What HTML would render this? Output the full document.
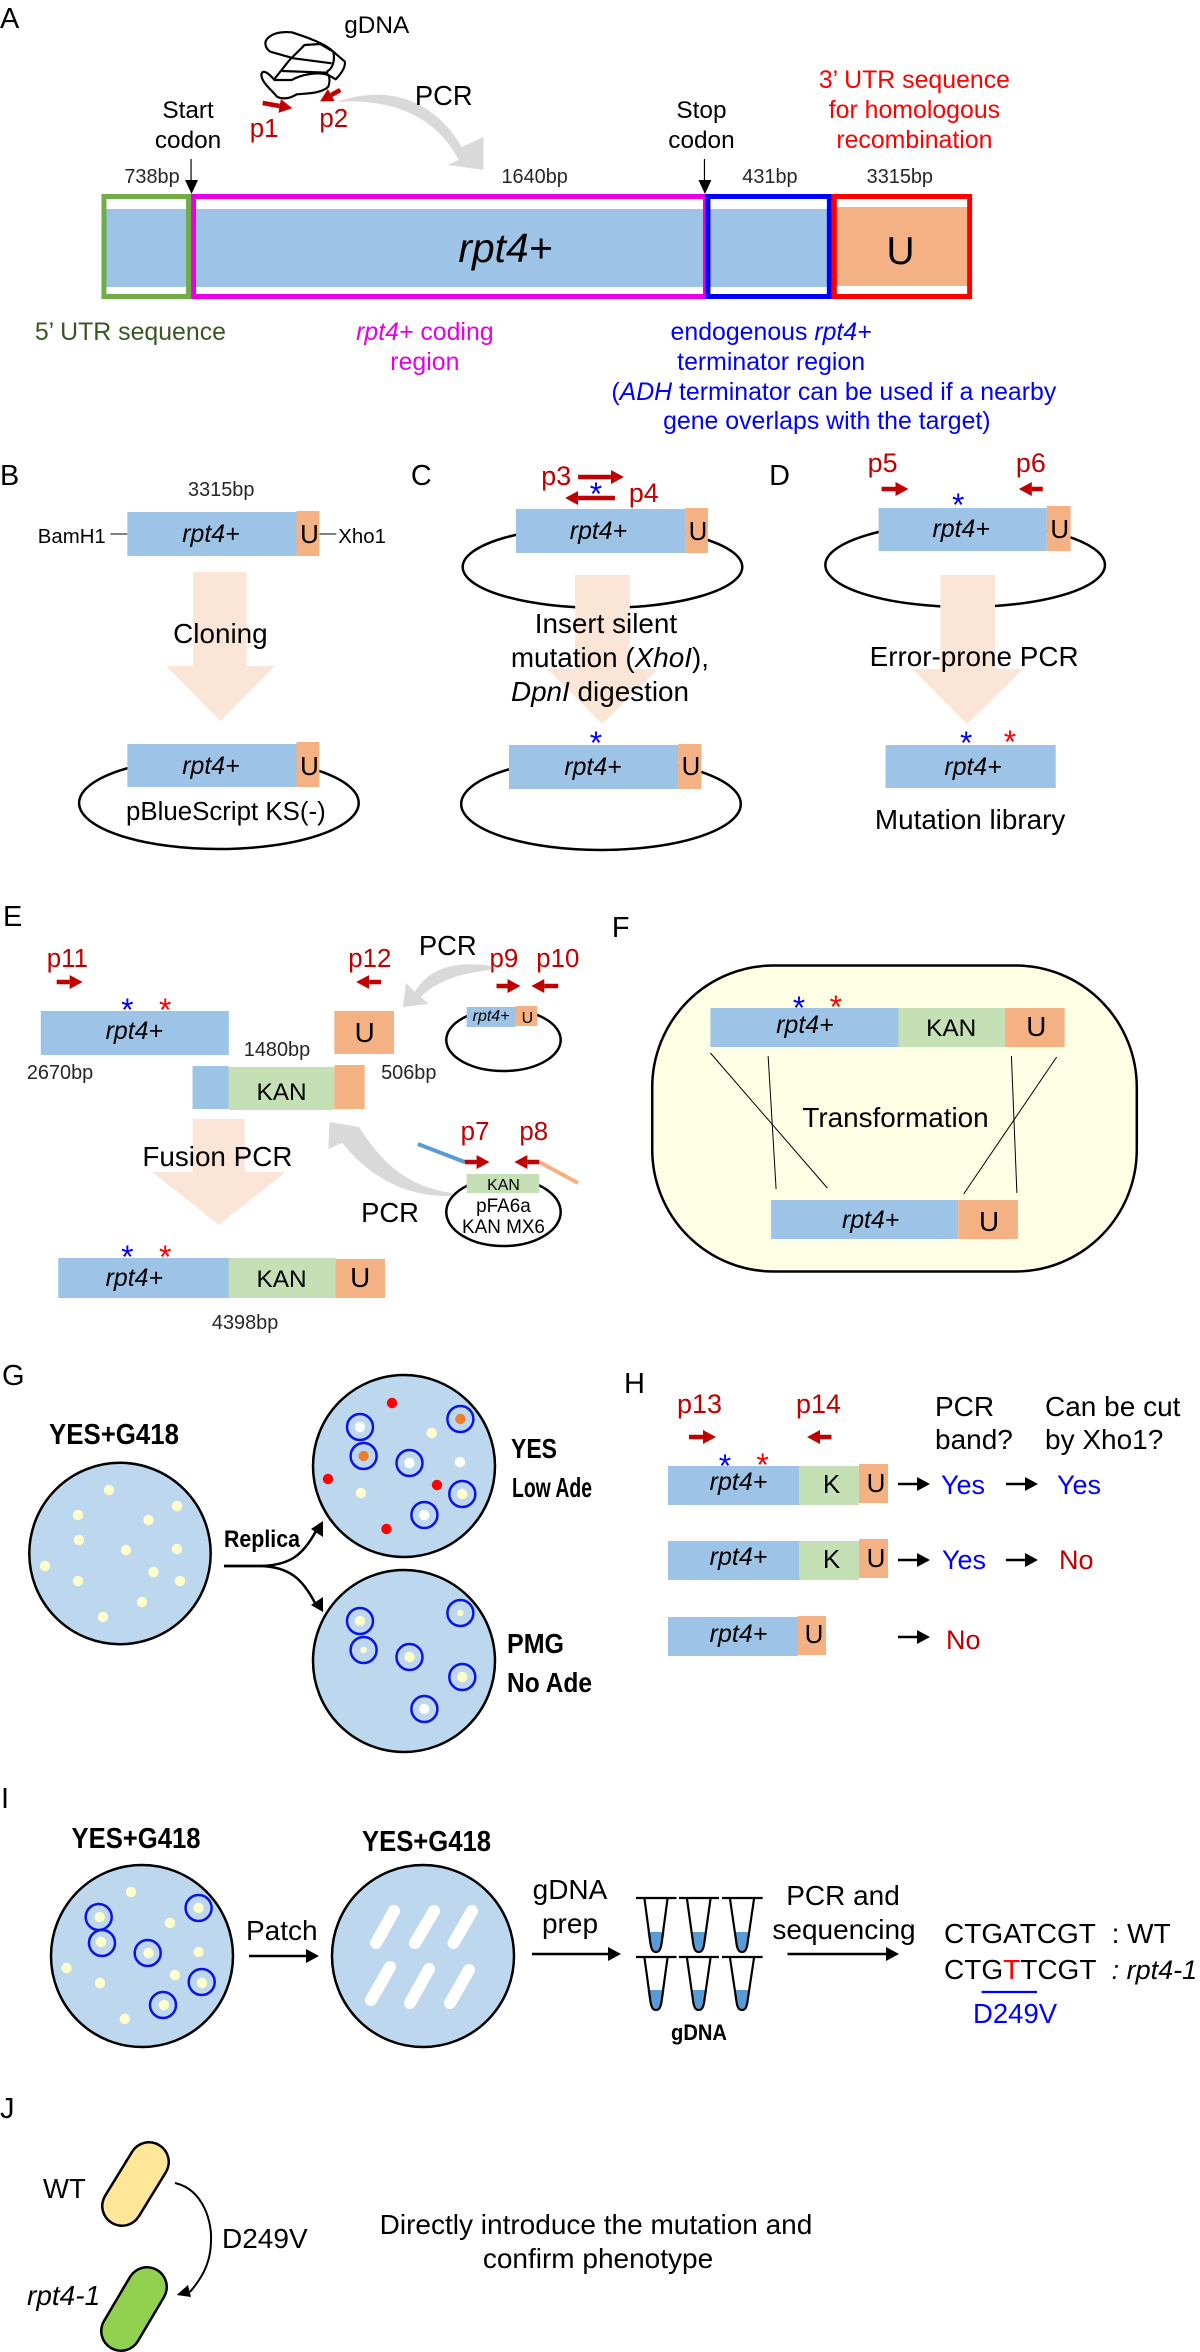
<!DOCTYPE html>
<html><head><meta charset="utf-8"><style>
html,body{margin:0;padding:0;background:#fff}
svg{display:block}
text{font-family:"Liberation Sans",Arial,sans-serif;fill:#000}
.m{text-anchor:middle}
.i{font-style:italic}
.lab{font-size:29px}
.r{font-size:26px;fill:#c00000}
.bp{font-size:20px;fill:#262626}
.t{font-size:28px}
.g{font-size:25px;text-anchor:middle;font-style:italic}
.u{font-size:26px;text-anchor:middle}
.ub{font-size:28px;text-anchor:middle}
.k{font-size:24.5px;text-anchor:middle}
.b{font-weight:bold}
.sb{font-size:32px;fill:#0000ff;text-anchor:middle}
.sr{font-size:32px;fill:#ff0000;text-anchor:middle}
.bl{fill:#9dc3e6}.or{fill:#f4b183}.gr{fill:#c5e0b4}.ar{fill:#fbe5d6}
.pl{fill:none;stroke:#000;stroke-width:2.5}
.ra{stroke:#c00000;stroke-width:4.5;fill:none}
.ka{stroke:#000;stroke-width:2.5;fill:none}
.pt{fill:#bdd7ee;stroke:#000;stroke-width:2.5}
.ring{fill:none;stroke:#0a14e6;stroke-width:2.5}
.y{fill:#ffffcc}.w{fill:#fff}.d{fill:#ff0000}.o{fill:#ed7d31}
.tube{fill:none;stroke:#000;stroke-width:2.2}
.thin{stroke:#000;stroke-width:1;fill:none}
</style></head><body>
<svg width="1200" height="2352" viewBox="0 0 1200 2352" xmlns="http://www.w3.org/2000/svg">
<defs>
<marker id="rh" markerUnits="userSpaceOnUse" markerWidth="16" markerHeight="16" refX="0" refY="7" orient="auto"><path d="M0 0L13 7L0 14Z" fill="#c00000"/></marker>
<marker id="kh" markerUnits="userSpaceOnUse" markerWidth="16" markerHeight="16" refX="0" refY="7" orient="auto"><path d="M0 0L13 7L0 14Z" fill="#000"/></marker>
</defs>

<g transform="scale(.995,1)">
<!-- A -->
<text class="lab" x="0" y="28">A</text>
<text x="346" y="33" font-size="24.5">gDNA</text>
<g transform="translate(220,0) scale(.3333)" fill="none" stroke="#000" stroke-width="6.5" stroke-linejoin="round">
<path d="M225 175L155 155C140 145 133 125 150 112C170 95 200 95 220 97C260 110 320 130 345 155L380 185C382 205 365 225 352 238L330 225"/>
<path d="M165 240L205 190C215 175 240 155 258 135L305 132L345 155C350 180 345 205 325 215"/>
<path d="M225 175L340 190M190 213L330 218"/>
<path d="M165 237C150 220 130 205 128 225C130 250 160 270 175 290C195 300 215 295 235 283C270 280 310 280 330 260C335 245 335 235 330 225C300 215 250 222 220 240L165 240"/>
</g>
<line class="ra" x1="264" y1="103" x2="281" y2="106" marker-end="url(#rh)"/>
<line class="ra" x1="342" y1="90" x2="333" y2="95" marker-end="url(#rh)"/>
<text class="r" x="251" y="137">p1</text>
<text class="r" x="321" y="127">p2</text>
<path d="M338 102C395 82 440 105 464 147L486 137L486 170L450 165L461 160C440 120 400 98 338 102Z" fill="#d9d9d9"/>
<text x="417" y="105" font-size="27.5">PCR</text>
<text class="m" x="189" y="118" font-size="24.5">Start</text>
<text class="m" x="189" y="148" font-size="24.5">codon</text>
<text class="m" x="705" y="118" font-size="24.5">Stop</text>
<text class="m" x="705" y="148" font-size="24.5">codon</text>
<g font-size="25" text-anchor="middle">
<text style="fill:#ff0000" x="919" y="88">3’ UTR sequence</text>
<text style="fill:#ff0000" x="919" y="118">for homologous</text>
<text style="fill:#ff0000" x="919" y="148">recombination</text>
</g>
<text class="bp" x="125" y="183">738bp</text>
<text class="bp" x="504" y="183">1640bp</text>
<text class="bp" x="746" y="183">431bp</text>
<text class="bp" x="871" y="183">3315bp</text>
<line x1="192" y1="159" x2="192" y2="181" stroke="#000" stroke-width="1.2"/><path d="M186 180H199L192.5 194Z"/>
<line x1="708" y1="159" x2="708" y2="181" stroke="#000" stroke-width="1.2"/><path d="M702 180H715L708.5 194Z"/>
<rect class="bl" x="102" y="209" width="736" height="78"/>
<rect class="or" x="840" y="207" width="134" height="79"/>
<rect x="104.5" y="196.5" width="85" height="100" fill="none" stroke="#70ad47" stroke-width="5"/>
<rect x="194.5" y="196.5" width="514.5" height="100" fill="none" stroke="#e600e6" stroke-width="5"/>
<rect x="711.5" y="196.5" width="122" height="100" fill="none" stroke="#0000ff" stroke-width="5"/>
<rect x="838.5" y="196.5" width="136" height="100" fill="none" stroke="#ff0000" stroke-width="5"/>
<text class="m i" x="508" y="262" font-size="41">rpt4+</text>
<text class="m" x="905" y="264" font-size="39">U</text>
<text x="35" y="340" font-size="25" style="fill:#385723">5’ UTR sequence</text>
<g font-size="25" text-anchor="middle">
<text style="fill:#e600e6" x="427" y="340"><tspan font-style="italic" style="fill:#e600e6">rpt4+</tspan> coding</text>
<text style="fill:#e600e6" x="427" y="370">region</text>
<text style="fill:#0000ff" x="775" y="340">endogenous <tspan font-style="italic" style="fill:#0000ff">rpt4+</tspan></text>
<text style="fill:#0000ff" x="775" y="370">terminator region</text>
<text style="fill:#0000ff" x="838" y="400">(<tspan font-style="italic" style="fill:#0000ff">ADH</tspan> terminator can be used if a nearby</text>
<text style="fill:#0000ff" x="831" y="429">gene overlaps with the target)</text>
</g>

<!-- B -->
<text class="lab" x="0" y="485">B</text>
<text class="bp" x="189" y="496">3315bp</text>
<text x="38" y="543" font-size="20.5">BamH1</text>
<text x="340" y="543" font-size="20.5">Xho1</text>
<line x1="111" y1="534" x2="128" y2="534" stroke="#333" stroke-width="1.2"/>
<line x1="321" y1="534" x2="338" y2="534" stroke="#333" stroke-width="1.2"/>
<rect class="bl" x="128" y="512" width="170" height="44"/><rect class="or" x="298" y="511" width="23" height="45"/>
<text class="g" x="212" y="542">rpt4+</text><text class="u" x="311" y="543">U</text>
<path class="ar" d="M194 572H248V666H276L221.5 721L167 666H194Z"/>
<text class="t m" x="221.5" y="643">Cloning</text>
<ellipse class="pl" cx="220" cy="803" rx="140.5" ry="46"/>
<rect class="bl" x="128" y="744" width="170" height="43"/><rect class="or" x="298" y="742" width="23" height="45"/>
<text class="g" x="212" y="774">rpt4+</text><text class="u" x="311" y="775">U</text>
<text class="m" x="227" y="820" font-size="26">pBlueScript KS(-)</text>

<!-- C -->
<text class="lab" x="413" y="485">C</text>
<text class="r" x="544" y="485" font-size="27" style="font-size:27px">p3</text>
<text class="r" x="632" y="502" style="font-size:27px">p4</text>
<line class="ra" x1="581" y1="477" x2="614" y2="477" marker-end="url(#rh)"/>
<line class="ra" x1="618" y1="498" x2="581" y2="498" marker-end="url(#rh)"/>
<text class="sb" x="599" y="505">*</text>
<ellipse class="pl" cx="605.5" cy="567" rx="140.5" ry="41"/>
<rect class="bl" x="518.5" y="509" width="170" height="44"/><rect class="or" x="688.5" y="508" width="23" height="45"/>
<text class="g" x="601.5" y="539">rpt4+</text><text class="u" x="701.5" y="540">U</text>
<path class="ar" d="M578 575H633V669H661L605.5 724L550 669H578Z"/>
<text class="t m" x="609" y="633">Insert silent</text>
<text class="t m" x="613" y="667">mutation (<tspan font-style="italic">XhoI</tspan>),</text>
<text class="t m" x="603" y="701"><tspan font-style="italic">DpnI</tspan> digestion</text>
<text class="sb" x="599" y="754">*</text>
<ellipse class="pl" cx="604" cy="804" rx="140.5" ry="46"/>
<rect class="bl" x="511.5" y="745" width="170" height="44"/><rect class="or" x="681.5" y="744" width="23.5" height="45"/>
<text class="g" x="596" y="775">rpt4+</text><text class="u" x="694.5" y="775">U</text>

<!-- D -->
<text class="lab" x="773" y="485">D</text>
<text class="r" x="872" y="472" style="font-size:27px">p5</text>
<text class="r" x="1021" y="472" style="font-size:27px">p6</text>
<line class="ra" x1="886" y1="489" x2="900" y2="489" marker-end="url(#rh)"/>
<line class="ra" x1="1048" y1="489" x2="1037" y2="489" marker-end="url(#rh)"/>
<text class="sb" x="963" y="516">*</text>
<ellipse class="pl" cx="970" cy="565" rx="140.5" ry="42"/>
<rect class="bl" x="883" y="508" width="169" height="43"/><rect class="or" x="1052" y="506" width="24" height="45"/>
<text class="g" x="966" y="537">rpt4+</text><text class="u" x="1065" y="538">U</text>
<path class="ar" d="M945 575H1000V669H1028L972 724L917 669H945Z"/>
<text class="t m" x="979" y="666">Error-prone PCR</text>
<text class="sb" x="971" y="754">*</text><text class="sr" x="1015" y="753">*</text>
<rect class="bl" x="890" y="745" width="171" height="43"/>
<text class="g" x="978" y="775">rpt4+</text>
<text class="t m" x="975" y="829">Mutation library</text>

<!-- E -->
<text class="lab" x="3" y="926">E</text>
<text class="r" x="47" y="967">p11</text>
<line class="ra" x1="57" y1="982" x2="70" y2="982" marker-end="url(#rh)"/>
<text class="r" x="350" y="967">p12</text>
<line class="ra" x1="383" y1="982" x2="371" y2="982" marker-end="url(#rh)"/>
<text x="421" y="955" font-size="27.5">PCR</text>
<text class="r" x="492" y="967">p9</text>
<text class="r" x="539" y="967">p10</text>
<line class="ra" x1="499" y1="986" x2="510" y2="986" marker-end="url(#rh)"/>
<line class="ra" x1="561" y1="986" x2="547" y2="986" marker-end="url(#rh)"/>
<path d="M494 966C454 960 430 970 417 992L408 983L405 1007L431 1004L423 997C436 983 460 973 494 970Z" fill="#d9d9d9"/>
<text class="sb" x="128" y="1021">*</text><text class="sr" x="166" y="1021">*</text>
<rect class="bl" x="41" y="1011" width="189" height="44"/>
<text class="g" x="135" y="1039">rpt4+</text>
<rect class="or" x="336" y="1011" width="60" height="43"/>
<text class="ub" x="366.5" y="1042">U</text>
<text class="bp" x="245" y="1056">1480bp</text>
<text class="bp" x="27" y="1079">2670bp</text>
<text class="bp" x="383" y="1079">506bp</text>
<rect class="bl" x="193.5" y="1066" width="36.5" height="43"/>
<rect class="gr" x="230" y="1067" width="106" height="43"/>
<rect class="or" x="336" y="1065" width="30.5" height="44"/>
<text class="k" x="283" y="1100">KAN</text>
<path class="ar" d="M193.5 1119H246V1172H287L220 1225L153 1172H193.5Z"/>
<text class="t m" x="218.5" y="1166">Fusion PCR</text>
<path d="M454 1193C410 1186 385 1165 361 1127L331 1122L330 1149L344 1143C370 1175 405 1197 454 1196Z" fill="#d9d9d9"/>
<text x="363" y="1222" font-size="27.5">PCR</text>
<text class="r" x="463" y="1140">p7</text><text class="r" x="522" y="1140">p8</text>
<line x1="420" y1="1144" x2="467" y2="1162" stroke="#5b9bd5" stroke-width="4"/>
<line x1="542" y1="1162" x2="581" y2="1183" stroke="#f4b183" stroke-width="4"/>
<line class="ra" x1="467" y1="1162" x2="479" y2="1162" marker-end="url(#rh)"/>
<line class="ra" x1="542" y1="1162" x2="530" y2="1162" marker-end="url(#rh)"/>
<ellipse class="pl" cx="506" cy="1040" rx="57.5" ry="31"/>
<rect class="bl" x="469" y="1007" width="49" height="20"/><rect class="or" x="518" y="1006" width="22" height="20"/>
<text class="m i" x="493.5" y="1021" font-size="16">rpt4+</text><text class="m" x="530" y="1023" font-size="16">U</text>
<ellipse class="pl" cx="506" cy="1212" rx="57.5" ry="34"/>
<rect class="gr" x="469" y="1174" width="73" height="19"/>
<text class="m" x="506" y="1190" font-size="16">KAN</text>
<text class="m" x="506" y="1212" font-size="19">pFA6a</text>
<text class="m" x="506" y="1233" font-size="19">KAN MX6</text>
<text class="sb" x="128" y="1268">*</text><text class="sr" x="166" y="1268">*</text>
<rect class="bl" x="58.5" y="1258" width="171.5" height="40"/>
<rect class="gr" x="230" y="1258" width="107" height="40"/>
<rect class="or" x="337" y="1259" width="50" height="39"/>
<text class="g" x="135" y="1286">rpt4+</text><text class="k" x="283" y="1287">KAN</text><text class="ub" x="362" y="1287">U</text>
<text class="bp" x="213" y="1329">4398bp</text>

<!-- F -->
<text class="lab" x="615" y="937">F</text>
<rect x="655.5" y="965.5" width="487" height="306" rx="122" ry="122" fill="#ffffe5" stroke="#000" stroke-width="2.5"/>
<rect class="bl" x="714" y="1008" width="189" height="39"/>
<rect class="gr" x="903" y="1008" width="107" height="39"/>
<rect class="or" x="1010" y="1008" width="60" height="39"/>
<text class="g" x="809" y="1033">rpt4+</text><text class="k" x="956" y="1036">KAN</text><text class="ub" x="1041.5" y="1036">U</text>
<text class="sb" x="803" y="1019">*</text><text class="sr" x="840" y="1018">*</text>
<line class="thin" x1="714" y1="1053" x2="831.5" y2="1188"/>
<line class="thin" x1="772" y1="1056" x2="780" y2="1189"/>
<line class="thin" x1="1016.5" y1="1056" x2="1022" y2="1193"/>
<line class="thin" x1="1062" y1="1057" x2="968.5" y2="1194"/>
<text class="t m" x="900" y="1127">Transformation</text>
<rect class="bl" x="775" y="1200" width="188" height="39"/>
<rect class="or" x="963" y="1200" width="60" height="39"/>
<text class="g" x="875" y="1228">rpt4+</text><text class="ub" x="994" y="1231">U</text>
</g>

<!-- G -->
<text class="lab" x="2" y="1385">G</text>
<text class="b" x="49" y="1444" font-size="29" textLength="130" lengthAdjust="spacingAndGlyphs">YES+G418</text>
<circle class="pt" cx="120" cy="1553.5" r="90.7"/>
<g class="y"><circle cx="109" cy="1490" r="5.2"/><circle cx="78" cy="1515" r="5.2"/><circle cx="177" cy="1506" r="5.2"/><circle cx="148.5" cy="1520" r="5.2"/><circle cx="79" cy="1540" r="5.2"/><circle cx="126" cy="1550" r="5.2"/><circle cx="177" cy="1549" r="5.2"/><circle cx="45" cy="1566" r="5.2"/><circle cx="153.5" cy="1572" r="5.2"/><circle cx="78" cy="1581" r="5.2"/><circle cx="180" cy="1581" r="5.2"/><circle cx="142" cy="1602" r="5.2"/><circle cx="103" cy="1617" r="5.2"/></g>
<text class="b" x="224" y="1547" font-size="24" textLength="76" lengthAdjust="spacingAndGlyphs">Replica</text>
<path class="ka" d="M224 1566H258C290 1566 303 1555 316 1531"/>
<path d="M323 1521L311 1529L323 1537Z"/>
<path class="ka" d="M224 1566H258C290 1566 303 1580 315 1603"/>
<path d="M323 1612L311 1605L323 1597Z"/>
<circle class="pt" cx="404" cy="1466" r="91"/>
<circle class="pt" cx="404" cy="1661" r="91"/>
<g class="d"><circle cx="392" cy="1403" r="5.2"/><circle cx="328" cy="1479" r="5.2"/><circle cx="437" cy="1485" r="5.2"/><circle cx="386.5" cy="1529" r="5.2"/></g>
<circle class="y" cx="431.7" cy="1433" r="5.2"/><circle class="y" cx="361" cy="1493" r="5.2"/><circle class="w" cx="460" cy="1462" r="5.2"/>
<circle class="w" cx="360" cy="1427" r="5.2"/><circle class="ring" cx="360" cy="1427" r="13"/>
<circle class="o" cx="460.4" cy="1419" r="5.2"/><circle class="ring" cx="460.4" cy="1419" r="13"/>
<circle class="o" cx="363.6" cy="1456" r="5.2"/><circle class="ring" cx="363.6" cy="1456" r="13"/>
<circle class="w" cx="409.5" cy="1463" r="5.2"/><circle class="ring" cx="409.5" cy="1463" r="13"/>
<circle class="y" cx="462.3" cy="1494" r="5.2"/><circle class="ring" cx="462.3" cy="1494" r="13"/>
<circle class="w" cx="424.4" cy="1515" r="5.2"/><circle class="ring" cx="424.4" cy="1515" r="13"/>
<circle class="y" cx="360" cy="1621" r="5.2"/><circle class="ring" cx="360" cy="1621" r="13"/>
<circle class="y" cx="460.4" cy="1613" r="3.2"/><circle class="ring" cx="460.4" cy="1613" r="13"/>
<circle class="y" cx="363.6" cy="1650" r="3.2"/><circle class="ring" cx="363.6" cy="1650" r="13"/>
<circle class="y" cx="409.5" cy="1657" r="5.2"/><circle class="ring" cx="409.5" cy="1657" r="13"/>
<circle class="y" cx="462.3" cy="1677" r="5.2"/><circle class="ring" cx="462.3" cy="1677" r="13"/>
<circle class="w" cx="424.4" cy="1709" r="5.2"/><circle class="ring" cx="424.4" cy="1709" r="13"/>
<text class="b" x="511" y="1458" font-size="28" textLength="46" lengthAdjust="spacingAndGlyphs">YES</text>
<text class="b" x="512" y="1497" font-size="28" textLength="80" lengthAdjust="spacingAndGlyphs">Low Ade</text>
<text class="b" x="507" y="1653" font-size="28" textLength="57" lengthAdjust="spacingAndGlyphs">PMG</text>
<text class="b" x="507" y="1692" font-size="28" textLength="85" lengthAdjust="spacingAndGlyphs">No Ade</text>

<!-- H -->
<text class="lab" x="624" y="1393">H</text>
<text class="r" x="677" y="1413" style="font-size:27px">p13</text>
<text class="r" x="796" y="1413" style="font-size:27px">p14</text>
<line class="ra" x1="689" y1="1437" x2="703" y2="1437" marker-end="url(#rh)"/>
<line class="ra" x1="831.5" y1="1437" x2="820" y2="1437" marker-end="url(#rh)"/>
<text class="sb" x="725" y="1477">*</text><text class="sr" x="762.6" y="1476">*</text>
<text class="t" x="935" y="1416">PCR</text><text class="t" x="935" y="1449">band?</text>
<text class="t" x="1045" y="1416">Can be cut</text><text class="t" x="1045" y="1449">by Xho1?</text>
<rect class="bl" x="668" y="1466" width="131" height="39"/><rect class="gr" x="799" y="1466" width="60" height="39"/><rect class="or" x="859" y="1464" width="29" height="39"/>
<text class="g" x="738.5" y="1490">rpt4+</text><text class="k" style="font-size:26px" x="831.5" y="1493">K</text><text class="u" x="876" y="1492">U</text>
<rect class="bl" x="668" y="1541" width="131" height="39"/><rect class="gr" x="799" y="1541" width="60" height="39"/><rect class="or" x="859" y="1539" width="29" height="39"/>
<text class="g" x="738.5" y="1565">rpt4+</text><text class="k" style="font-size:26px" x="831.5" y="1568">K</text><text class="u" x="876" y="1567">U</text>
<rect class="bl" x="668" y="1617" width="130" height="39"/><rect class="or" x="797.5" y="1616" width="28.5" height="39"/>
<text class="g" x="738.5" y="1642">rpt4+</text><text class="u" x="814" y="1643">U</text>
<g stroke="#000" stroke-width="2.5" fill="none">
<line x1="898" y1="1484" x2="917" y2="1484" marker-end="url(#kh)" style="stroke-width:2.5"/>
<line x1="1006" y1="1484" x2="1025" y2="1484" marker-end="url(#kh)"/>
<line x1="898" y1="1560" x2="917" y2="1560" marker-end="url(#kh)"/>
<line x1="1006" y1="1560" x2="1025" y2="1560" marker-end="url(#kh)"/>
<line x1="898" y1="1637" x2="917" y2="1637" marker-end="url(#kh)"/>
</g>
<g font-size="27">
<text style="fill:#0000ff" x="941" y="1494">Yes</text>
<text style="fill:#0000ff" x="1057" y="1494">Yes</text>
<text style="fill:#0000ff" x="942" y="1569">Yes</text>
<text style="fill:#c00000" x="1059" y="1569">No</text>
<text style="fill:#c00000" x="946" y="1649">No</text>
</g>

<!-- I -->
<text class="lab" x="1" y="1808">I</text>
<text class="b" x="71.5" y="1848" font-size="29" textLength="129" lengthAdjust="spacingAndGlyphs">YES+G418</text>
<text class="b" x="362" y="1851" font-size="29" textLength="129" lengthAdjust="spacingAndGlyphs">YES+G418</text>
<circle class="pt" cx="142" cy="1956" r="91"/>
<g class="y"><circle cx="131" cy="1892" r="5.2"/><circle cx="170" cy="1923" r="5.2"/><circle cx="198.6" cy="1952" r="5.2"/><circle cx="66.6" cy="1968" r="5.2"/><circle cx="100" cy="1983" r="5.2"/><circle cx="175" cy="1975" r="5.2"/><circle cx="124.8" cy="2019" r="5.2"/>
<circle cx="99.7" cy="1917" r="5.2"/><circle cx="101" cy="1942" r="5.2"/><circle cx="148.5" cy="1953" r="5.2"/><circle cx="198.6" cy="1908" r="5.2"/><circle cx="202" cy="1983" r="5.2"/><circle cx="164" cy="2005" r="5.2"/></g>
<circle class="ring" cx="98.7" cy="1917" r="13"/><circle class="ring" cx="102" cy="1943" r="13"/><circle class="ring" cx="147.7" cy="1953" r="13"/><circle class="ring" cx="198.6" cy="1908" r="13"/><circle class="ring" cx="201.7" cy="1982" r="13"/><circle class="ring" cx="163" cy="2005" r="13"/>
<text class="t" x="246" y="1940">Patch</text>
<line x1="249" y1="1956" x2="306" y2="1956" stroke="#000" stroke-width="2.5" marker-end="url(#kh)"/>
<circle class="pt" cx="423" cy="1956" r="91"/>
<g stroke="#fff" stroke-width="12" stroke-linecap="round">
<line x1="394" y1="1911" x2="376" y2="1943"/><line x1="434" y1="1911" x2="415" y2="1943"/><line x1="472" y1="1911" x2="453.5" y2="1943"/>
<line x1="390" y1="1967" x2="371" y2="2000"/><line x1="429" y1="1969" x2="410" y2="2003"/><line x1="469" y1="1970" x2="450" y2="2003"/>
</g>
<text class="t m" x="570" y="1899">gDNA</text><text class="t m" x="570" y="1933">prep</text>
<line x1="532" y1="1954" x2="608" y2="1954" stroke="#000" stroke-width="2.5" marker-end="url(#kh)"/>
<g fill="#5b9bd5">
<path d="M647.5 1932H664.5C663 1943 661 1952 656 1952C651 1952 649 1943 647.5 1932Z"/>
<path d="M690.5 1932H707C705.5 1943 703.5 1952 698.7 1952C694 1952 692 1943 690.5 1932Z"/>
<path d="M734 1932H750C748.5 1943 746.5 1952 742 1952C737.5 1952 735.5 1943 734 1932Z"/>
<path d="M647.5 1990H664.5C663 2001 661 2010 656 2010C651 2010 649 2001 647.5 1990Z"/>
<path d="M690.5 1990H707C705.5 2001 703.5 2010 698.7 2010C694 2010 692 2001 690.5 1990Z"/>
<path d="M734 1990H750C748.5 2001 746.5 2010 742 2010C737.5 2010 735.5 2001 734 1990Z"/>
</g>
<g class="tube">
<path d="M636 1898H676.5M679 1898H719M722 1898H762.6M636 1957H676.5M679 1957H719M722 1957H762.6"/>
<path d="M644.5 1899L650 1940C651 1950 653 1952 656 1952C659 1952 661 1950 662 1940L667.5 1899"/>
<path d="M687 1899L692.7 1940C693.7 1950 695.7 1952 698.7 1952C701.7 1952 703.7 1950 704.7 1940L710.5 1899"/>
<path d="M730 1899L736 1940C737 1950 739 1952 742 1952C745 1952 747 1950 748 1940L754 1899"/>
<path d="M644.5 1958L650 1998C651 2008 653 2010 656 2010C659 2010 661 2008 662 1998L667.5 1958"/>
<path d="M687 1958L692.7 1998C693.7 2008 695.7 2010 698.7 2010C701.7 2010 703.7 2008 704.7 1998L710.5 1958"/>
<path d="M730 1958L736 1998C737 2008 739 2010 742 2010C745 2010 747 2008 748 1998L754 1958"/>
</g>
<text class="b" x="671" y="2040" font-size="22" textLength="56" lengthAdjust="spacingAndGlyphs">gDNA</text>
<text class="t m" x="843" y="1905">PCR and</text><text class="t m" x="844" y="1939">sequencing</text>
<line x1="787.5" y1="1954" x2="886" y2="1954" stroke="#000" stroke-width="2.5" marker-end="url(#kh)"/>
<text class="t" x="944" y="1943">CTGATCGT</text><text class="t" x="1111.6" y="1943">: WT</text>
<text class="t" x="944" y="1979">CTG<tspan style="fill:#ff0000">T</tspan>TCGT</text>
<text class="t i" x="1111.6" y="1979" style="font-size:27px">: rpt4-1</text>
<line x1="981.6" y1="1992" x2="1037" y2="1992" stroke="#0000ff" stroke-width="2.2"/>
<text x="973" y="2023" font-size="27.5" style="fill:#0000ff">D249V</text>

<!-- J -->
<text class="lab" x="0" y="2118">J</text>
<text x="43" y="2198" font-size="27.5">WT</text>
<text class="i" x="27" y="2305" font-size="28">rpt4-1</text>
<line x1="149" y1="2162" x2="122" y2="2206" stroke="#000" stroke-width="42" stroke-linecap="round"/>
<line x1="149" y1="2162" x2="122" y2="2206" stroke="#ffe699" stroke-width="37" stroke-linecap="round"/>
<line x1="147" y1="2287" x2="121" y2="2331" stroke="#000" stroke-width="42" stroke-linecap="round"/>
<line x1="147" y1="2287" x2="121" y2="2331" stroke="#92d050" stroke-width="37" stroke-linecap="round"/>
<path d="M175 2183C205 2190 212 2225 211 2240C211 2265 200 2280 190 2292" fill="none" stroke="#000" stroke-width="2"/>
<path d="M188 2285L191 2297L176.7 2295Z"/>
<text x="222" y="2248" font-size="28">D249V</text>
<text class="t m" x="596" y="2234">Directly introduce the mutation and</text>
<text class="t m" x="598" y="2268">confirm phenotype</text>
</svg>
</body></html>
